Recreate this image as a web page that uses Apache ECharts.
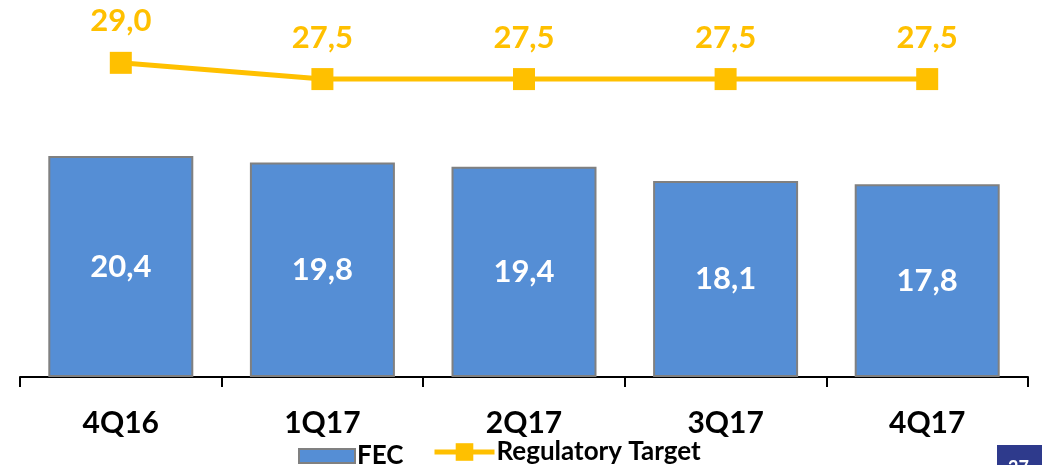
<!DOCTYPE html>
<html>
<head>
<meta charset="utf-8">
<script src="https://cdn.jsdelivr.net/npm/echarts@6/dist/echarts.min.js"></script>
<style>
  html, body { margin: 0; padding: 0; background: #ffffff; }
  #chart { width: 1042px; height: 465px; }
</style>
</head>
<body>
<div id="chart"></div>
<script>
// Quarterly FEC against the regulatory target
const quarters = ['4Q16', '1Q17', '2Q17', '3Q17', '4Q17'];
const fecValues = [20.4, 19.8, 19.4, 18.1, 17.8];
const targetValues = [29.0, 27.5, 27.5, 27.5, 27.5];
const pageNumber = '27';

const FONT = 'Lato, "Open Sans", sans-serif';
const BLUE = '#558ed5';
const GOLD = '#ffc000';
const decimalComma = (p) => p.value.toFixed(1).replace('.', ',');

const chart = echarts.init(document.getElementById('chart'), null, { renderer: 'canvas' });

const legendText = {
  color: '#000000', fontFamily: FONT, fontWeight: 'bold', fontSize: 26,
  padding: [0, 0, 0, -3]
};

chart.setOption({
  backgroundColor: '#ffffff',
  animation: false,
  grid: { left: 20, right: 14, top: 52, bottom: 88, containLabel: false },
  xAxis: {
    type: 'category',
    data: quarters,
    boundaryGap: true,
    axisLine: { show: true, lineStyle: { color: '#000000', width: 2 } },
    axisTick: { show: true, length: 10, lineStyle: { color: '#000000', width: 2 } },
    axisLabel: {
      margin: 31,
      color: '#000000',
      fontFamily: FONT,
      fontWeight: 'bold',
      fontSize: 30
    }
  },
  yAxis: {
    type: 'value',
    min: 0,
    max: 30,
    show: false,
    splitLine: { show: false }
  },
  legend: [
    {
      data: [{ name: 'FEC', icon: 'rect' }],
      left: 298,
      top: 443,
      padding: 0,
      itemWidth: 56,
      itemHeight: 14,
      textStyle: legendText
    },
    {
      data: ['Regulatory Target'],
      left: 432,
      top: 439,
      padding: 0,
      itemWidth: 60,
      itemHeight: 22,
      lineStyle: { width: 5 },
      textStyle: legendText
    }
  ],
  series: [
    {
      name: 'FEC',
      type: 'bar',
      data: fecValues,
      barWidth: 145,
      itemStyle: { color: BLUE, borderColor: '#808080', borderWidth: 2 },
      label: {
        show: true,
        position: 'inside',
        formatter: decimalComma,
        color: '#ffffff',
        fontFamily: FONT,
        fontWeight: 'bold',
        fontSize: 31
      }
    },
    {
      name: 'Regulatory Target',
      type: 'line',
      data: targetValues,
      symbol: 'rect',
      symbolSize: 22,
      lineStyle: { color: GOLD, width: 5 },
      itemStyle: { color: GOLD },
      label: {
        show: true,
        position: 'top',
        distance: 15,
        formatter: decimalComma,
        color: GOLD,
        fontFamily: FONT,
        fontWeight: 'bold',
        fontSize: 31
      },
      z: 3
    }
  ],
  graphic: [
    {
      type: 'rect',
      left: 997,
      top: 445,
      shape: { width: 45, height: 20 },
      style: { fill: '#2e3a8c' },
      silent: true
    },
    {
      type: 'text',
      left: 1008,
      top: 459,
      style: { text: pageNumber, fill: '#ffffff', font: 'bold 18px ' + FONT },
      silent: true
    }
  ]
});
</script>
</body>
</html>
